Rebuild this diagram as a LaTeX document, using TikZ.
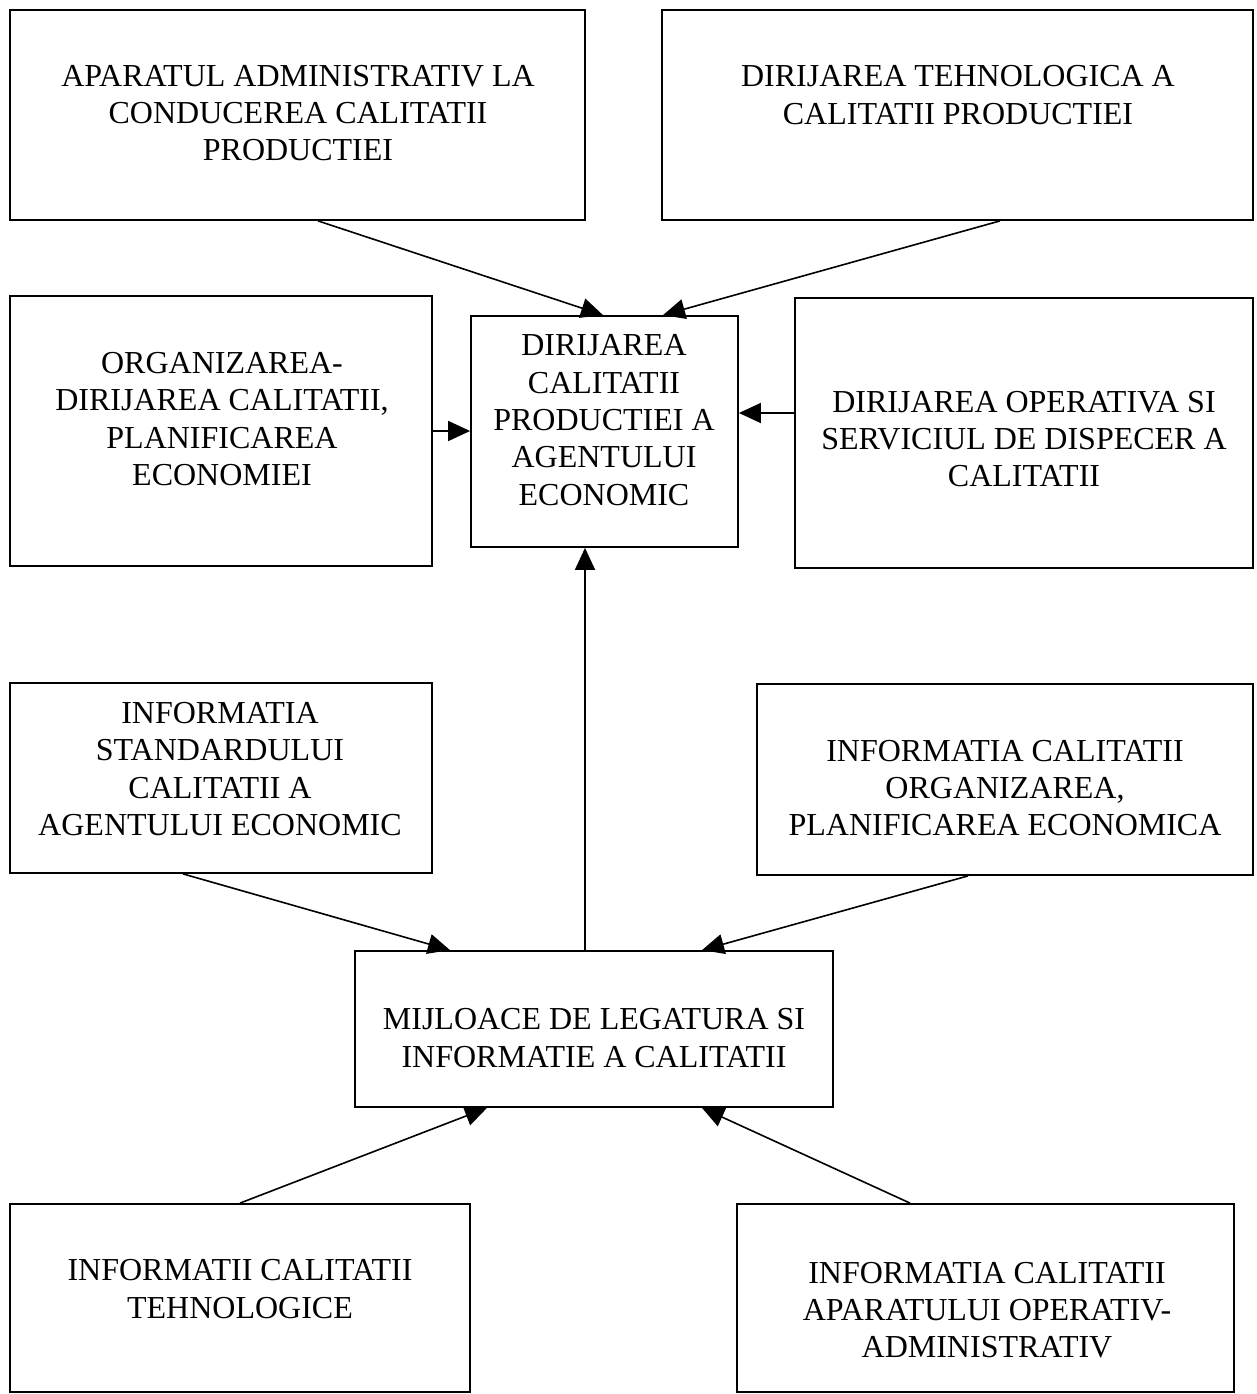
\documentclass[tikz,border=0pt]{standalone}
\usepackage{fontspec}
\setmainfont{Liberation Serif}
\usetikzlibrary{arrows.meta}
\begin{document}
\begin{tikzpicture}[x=1pt,y=-1pt,
  box/.style={draw,line width=1.8pt,inner sep=0pt,minimum width=#1},
  txt/.style={align=center,inner sep=0pt,font=\fontsize{32}{37.3}\selectfont},
  conn/.style={line width=1.6pt,-{Triangle[length=22pt,width=20pt]}}]
\useasboundingbox (0,0) rectangle (1256,1394);
% boxes
\node[box=575pt,minimum height=210pt] (b1) at (297.5,115) {};
\node[box=591pt,minimum height=210pt] (b2) at (957.5,115) {};
\node[box=422pt,minimum height=270pt] (b3) at (221,431) {};
\node[box=267pt,minimum height=231pt] (b4) at (604.5,431.5) {};
\node[box=458pt,minimum height=270pt] (b5) at (1024,433) {};
\node[box=422pt,minimum height=190pt] (b6) at (221,778) {};
\node[box=496pt,minimum height=191pt] (b7) at (1005,779.5) {};
\node[box=478pt,minimum height=156pt] (b8) at (594,1029) {};
\node[box=460pt,minimum height=188pt] (b9) at (240,1298) {};
\node[box=497pt,minimum height=188pt] (b10) at (985.5,1298) {};
% labels
\node[txt] (t1) at (298,113) {APARATUL ADMINISTRATIV LA\\CONDUCEREA CALITATII\\PRODUCTIEI};
\node[txt] (t2) at (958,95) {DIRIJAREA TEHNOLOGICA A\\CALITATII PRODUCTIEI};
\node[txt] (t3) at (222,419) {ORGANIZAREA-\\DIRIJAREA CALITATII,\\PLANIFICAREA\\ECONOMIEI};
\node[txt] (t4) at (604,420) {DIRIJAREA\\CALITATII\\PRODUCTIEI A\\AGENTULUI\\ECONOMIC};
\node[txt] (t5) at (1024,439) {DIRIJAREA OPERATIVA SI\\SERVICIUL DE DISPECER A\\CALITATII};
\node[txt] (t6) at (220,769) {INFORMATIA\\STANDARDULUI\\CALITATII A\\AGENTULUI ECONOMIC};
\node[txt] (t7) at (1005,788) {INFORMATIA CALITATII\\ORGANIZAREA,\\PLANIFICAREA ECONOMICA};
\node[txt] (t8) at (594,1038) {MIJLOACE DE LEGATURA SI\\INFORMATIE A CALITATII};
\node[txt] (t9) at (240,1289) {INFORMATII CALITATII\\TEHNOLOGICE};
\node[txt] (t10) at (987,1310) {INFORMATIA CALITATII\\APARATULUI OPERATIV-\\ADMINISTRATIV};
% connectors
\draw[conn] ([xshift=20.5pt]b1.south) -- ([xshift=-1.5pt]b4.north);
\draw[conn] ([xshift=42.5pt]b2.south) -- ([xshift=58.5pt]b4.north);
\draw[conn] (b3.east) -- (b4.west |- b3.east);
\coordinate (c5) at ([yshift=20pt]b5.west);
\draw[conn] (c5) -- (b4.east |- c5);
\coordinate (c8) at ([xshift=-9pt]b8.north);
\draw[conn] (c8) -- (b4.south -| c8);
\draw[conn] ([xshift=-38pt]b6.south) -- ([xshift=-144pt]b8.north);
\draw[conn] ([xshift=-37pt]b7.south) -- ([xshift=108pt]b8.north);
\draw[conn] (b9.north) -- ([xshift=-107pt]b8.south);
\draw[conn] ([xshift=-75.5pt]b10.north) -- ([xshift=108pt]b8.south);
\end{tikzpicture}
\end{document}
